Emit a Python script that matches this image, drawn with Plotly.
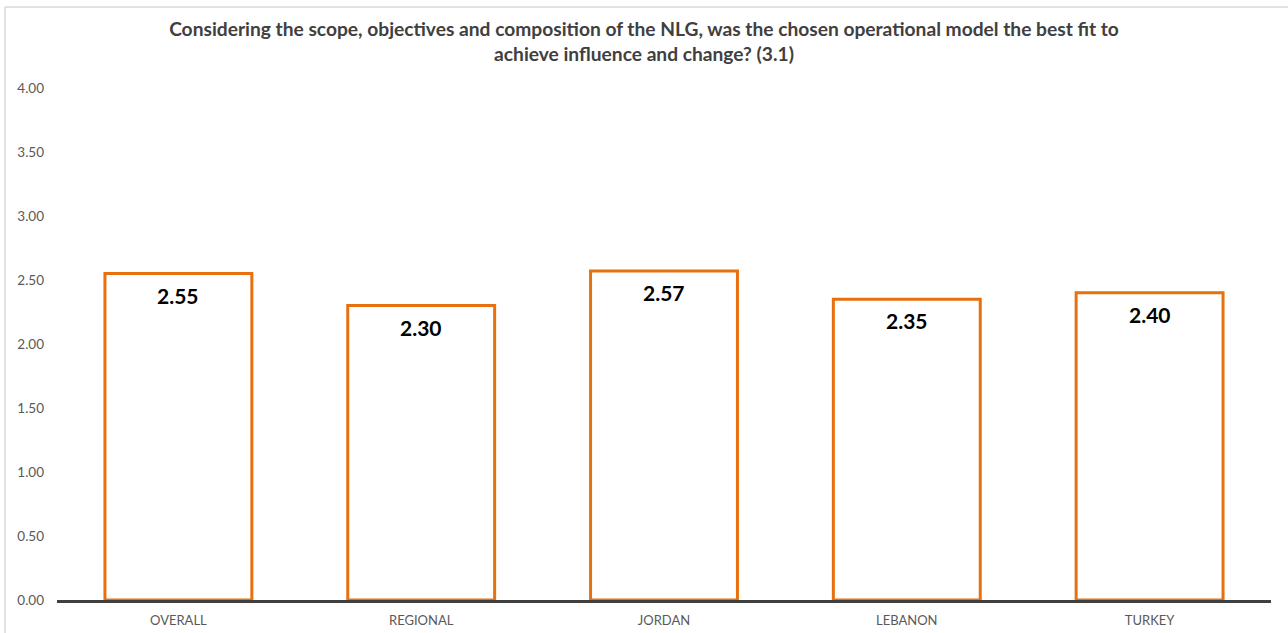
import plotly.graph_objects as go

categories = ["OVERALL", "REGIONAL", "JORDAN", "LEBANON", "TURKEY"]
scores = [2.55, 2.30, 2.57, 2.35, 2.40]
y_ticks = [0, 0.5, 1.0, 1.5, 2.0, 2.5, 3.0, 3.5, 4.0]
y_tick_labels = [f"{v:.2f}" for v in y_ticks]

title_text = ("Considering the scope, objectives and composition of the NLG, was the chosen operational model the best fit to"
              "<br>achieve influence and change? (3.1)")

FONT = "Lato, 'Open Sans', sans-serif"
ORANGE = "#E8700E"
BORDER = "#D9D9D9"

# plot area in pixels
W, H = 1288, 633
L, R, T, B = 57, 17, 88, 33
PW, PH = W - L - R, H - T - B

fig = go.Figure(
    go.Bar(
        x=categories,
        y=scores,
        marker=dict(color="#FFFFFF", line=dict(color=ORANGE, width=3)),
        hoverinfo="skip",
    )
)

# value labels just below each bar top
for cat, val in zip(categories, scores):
    fig.add_annotation(
        x=cat, y=val, xref="x", yref="y",
        text=f"<b>{val:.2f}</b>",
        showarrow=False,
        yanchor="top",
        yshift=-7,
        font=dict(family=FONT, size=21, color="#000000"),
    )

fig.update_layout(
    width=W,
    height=H,
    margin=dict(l=L, r=R, t=T, b=B, autoexpand=False),
    paper_bgcolor="#FFFFFF",
    plot_bgcolor="#FFFFFF",
    bargap=0.395,
    showlegend=False,
    title=dict(
        text=title_text,
        x=0.5,
        xref="container",
        xanchor="center",
        y=1 - 36 / H,
        yanchor="top",
        font=dict(family=FONT, size=19.2, color="#404040", weight="bold"),
    ),
    xaxis=dict(
        automargin=False,
        showgrid=False,
        showline=True,
        linecolor="#404040",
        linewidth=3,
        ticks="",
        tickfont=dict(family=FONT, size=13, color="#595959"),
        ticklabelstandoff=6,
    ),
    yaxis=dict(
        automargin=False,
        range=[0, 4],
        tickvals=y_ticks,
        ticktext=y_tick_labels,
        showgrid=False,
        zeroline=False,
        showline=False,
        tickfont=dict(family=FONT, size=13.5, color="#595959"),
        ticklabelstandoff=12,
    ),
    shapes=[
        # outer chart frame (top and left edges)
        dict(type="line", xref="paper", yref="paper",
             x0=(5 - L) / PW, x1=1.05, y0=(H - B - 7) / PH, y1=(H - B - 7) / PH,
             line=dict(color=BORDER, width=1.5)),
        dict(type="line", xref="paper", yref="paper",
             x0=(5 - L) / PW, x1=(5 - L) / PW, y0=(H - B - 7) / PH, y1=-0.1,
             line=dict(color=BORDER, width=1.5)),
    ],
)

fig.write_html("out.html")
